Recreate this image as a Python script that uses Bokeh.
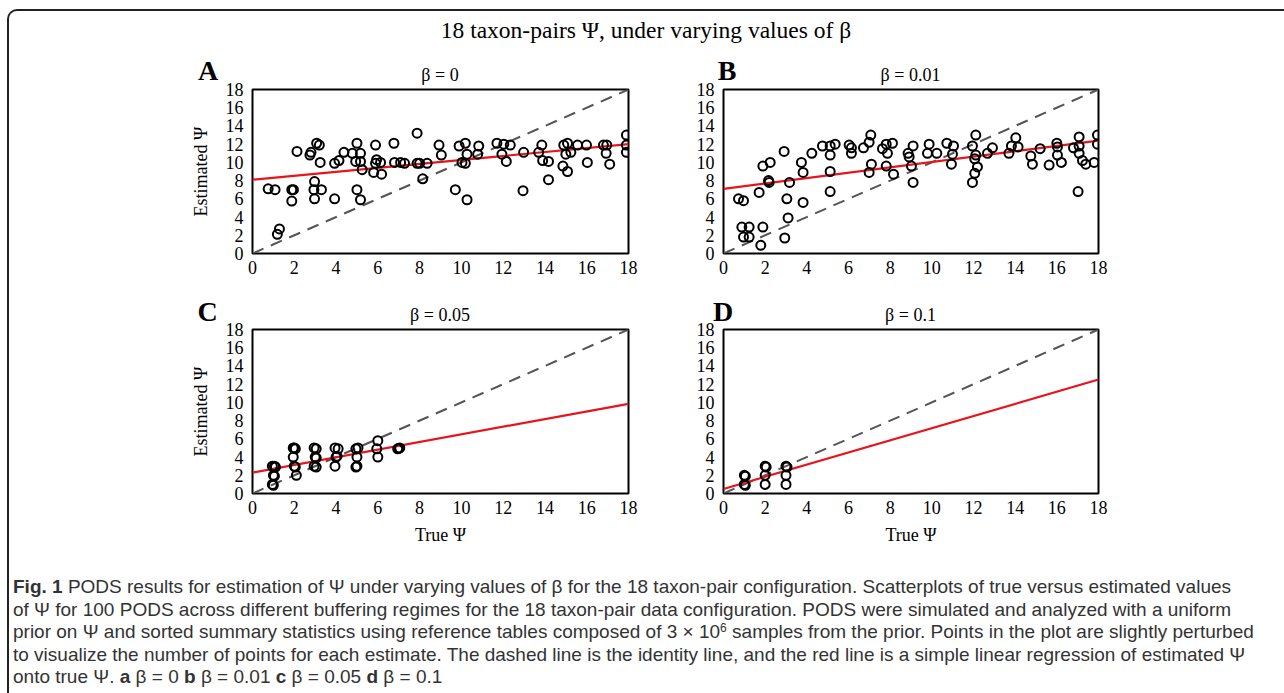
from bokeh.plotting import figure
from bokeh.models import Range1d, FixedTicker, Div
from bokeh.layouts import column, row
from bokeh.embed import file_html
from bokeh.resources import INLINE

# ---------------- data ----------------
ticks = [0, 2, 4, 6, 8, 10, 12, 14, 16, 18]
panel_letters = ["A", "B", "C", "D"]
panel_titles = ["β = 0", "β = 0.01", "β = 0.05", "β = 0.1"]
main_title = "18 taxon-pairs Ψ, under varying values of β"

A_true = [0.75, 1.08, 1.19, 1.29, 1.88, 1.96, 1.88, 2.13, 2.75, 2.8,
          2.97, 2.94, 2.97, 3.3, 3.07, 3.2, 3.24, 3.93, 3.93, 4.14,
          4.38, 4.78, 5.0, 4.94, 5.0, 5.17, 5.17, 5.25, 5.17, 5.8,
          5.89, 5.94, 5.89, 6.13, 6.18, 6.77, 6.8, 7.09, 7.28, 7.88,
          7.88, 8.0, 8.15, 8.36, 8.93, 9.04, 9.71, 9.89, 10.19, 10.27,
          10.03, 10.19, 10.27, 10.83, 10.78, 11.7, 12.03, 12.34, 11.94, 12.15,
          12.95, 12.98, 13.7, 13.85, 13.89, 14.17, 14.17, 14.86, 14.9, 15.08,
          15.0, 15.24, 15.08, 15.56, 15.99, 16.03, 16.8, 16.96, 16.93, 17.1,
          17.9, 17.9, 17.9]
A_est = [7.1, 7.0, 2.1, 2.7, 7.0, 7.0, 5.75, 11.2, 10.8, 11.1,
         7.9, 7.0, 6.0, 7.0, 12.1, 11.9, 10.0, 6.0, 9.9, 10.2,
         11.1, 11.0, 12.1, 10.1, 7.0, 5.9, 11.0, 9.2, 10.1, 8.9,
         11.9, 10.3, 9.9, 10.0, 8.7, 12.1, 10.0, 10.0, 9.9, 13.2,
         9.9, 9.9, 8.2, 9.9, 11.9, 10.8, 7.0, 11.8, 12.1, 10.9,
         10.0, 9.9, 5.9, 11.8, 10.9, 12.1, 12.0, 11.9, 10.9, 10.1,
         6.9, 11.1, 11.1, 11.9, 10.2, 10.1, 8.1, 9.6, 11.9, 12.1,
         10.9, 11.1, 9.0, 11.9, 11.9, 10.0, 11.9, 11.9, 11.0, 9.8,
         13.0, 11.1, 11.9]

B_true = [0.72, 0.96, 0.88, 0.96, 1.23, 1.23, 1.71, 1.79, 1.89, 1.89,
          2.24, 2.16, 2.19, 2.91, 2.94, 3.04, 3.1, 3.17, 3.74, 3.82,
          3.82, 4.24, 4.75, 5.12, 5.12, 5.12, 5.12, 5.36, 6.03, 6.14,
          6.14, 6.72, 6.99, 7.07, 7.1, 6.99, 7.63, 7.81, 8.11, 7.87,
          7.81, 8.16, 8.86, 8.91, 9.02, 9.1, 9.1, 9.87, 9.79, 10.24,
          10.72, 11.04, 10.99, 10.94, 11.95, 12.11, 12.11, 11.95, 12.06, 12.19,
          12.06, 12.67, 12.91, 13.7, 13.82, 14.03, 14.14, 14.75, 14.83, 15.2,
          15.63, 16.0, 16.03, 16.03, 16.22, 16.8, 17.07, 17.07, 17.07, 17.02,
          17.23, 17.39, 17.79, 17.95, 17.95]
B_est = [6.0, 5.8, 2.9, 1.8, 2.9, 1.8, 6.7, 0.9, 2.9, 9.6,
         10.0, 8.0, 7.8, 11.2, 1.7, 6.0, 3.9, 7.8, 10.0, 8.9,
         5.6, 11.0, 11.8, 11.8, 10.8, 9.0, 6.8, 12.0, 11.9, 11.6,
         11.0, 11.6, 12.2, 13.0, 9.8, 8.9, 11.5, 12.0, 12.1, 11.0,
         9.6, 8.7, 11.0, 10.6, 9.6, 11.8, 7.8, 12.0, 11.0, 11.0,
         12.1, 11.8, 10.9, 9.8, 11.8, 13.0, 10.8, 7.8, 8.8, 9.5,
         10.4, 11.0, 11.6, 11.0, 11.8, 12.7, 11.7, 10.7, 9.8, 11.5,
         9.7, 12.1, 11.7, 10.8, 10.0, 11.6, 12.8, 11.8, 11.0, 6.8,
         10.2, 9.8, 10.0, 13.0, 12.0]

C_true = [0.95, 1.05, 1.0, 1.05, 0.95, 1.0, 1.1,
          1.95, 2.05, 1.95, 2.0, 2.05, 2.1, 2.0,
          2.95, 3.05, 3.0, 3.05, 2.95, 3.05,
          3.95, 4.1, 4.0, 3.95, 4.05,
          4.95, 5.05, 5.0, 4.95, 5.0,
          6.0, 5.95, 6.0,
          6.95, 7.05, 7.0]
C_est = [3.0, 3.0, 2.0, 1.9, 1.0, 0.9, 2.9,
         5.0, 4.9, 4.0, 3.0, 2.9, 2.0, 5.0,
         5.0, 4.9, 4.0, 3.9, 3.0, 2.9,
         5.0, 4.9, 4.0, 3.0, 4.1,
         4.9, 5.0, 4.0, 2.9, 3.0,
         5.8, 4.9, 4.0,
         4.9, 5.0, 4.95]

D_true = [1.0, 1.05, 1.0, 1.05, 2.0, 2.05, 2.0, 2.0, 3.0, 3.05, 3.0, 3.0]
D_est = [2.0, 1.9, 1.0, 0.9, 3.0, 2.9, 2.0, 1.0, 3.0, 2.9, 2.0, 1.0]

reg_intercept = [8.1, 7.1, 2.3, 0.5]
reg_slope = [0.217, 0.294, 0.419, 0.667]

caption_lines = [
    "<b>Fig. 1</b> PODS results for estimation of Ψ under varying values of β for the 18 taxon-pair configuration. Scatterplots of true versus estimated values",
    "of Ψ for 100 PODS across different buffering regimes for the 18 taxon-pair data configuration. PODS were simulated and analyzed with a uniform",
    "prior on Ψ and sorted summary statistics using reference tables composed of 3 × 10<span style='position:relative;top:-6px;font-size:12px;line-height:0'>6</span> samples from the prior. Points in the plot are slightly perturbed",
    "to visualize the number of points for each estimate. The dashed line is the identity line, and the red line is a simple linear regression of estimated Ψ",
    "onto true Ψ. <b>a</b> β = 0 <b>b</b> β = 0.01 <b>c</b> β = 0.05 <b>d</b> β = 0.1",
]

SERIF = "Liberation Serif"


def make_panel(idx, xs, ys, width, height, mb_left, mb_right, mb_top, mb_bottom,
               ylabel, xlabel):
    p = figure(width=width, height=height, output_backend="svg", toolbar_location=None,
               x_range=Range1d(0, 18), y_range=Range1d(0, 18),
               min_border_left=mb_left, min_border_right=mb_right,
               min_border_top=mb_top, min_border_bottom=mb_bottom)
    p.grid.visible = False
    p.outline_line_color = "black"
    p.outline_line_width = 2
    p.outline_line_alpha = 1
    p.background_fill_color = "white"
    p.border_fill_color = None

    for ax in (p.xaxis[0], p.yaxis[0]):
        ax.ticker = FixedTicker(ticks=ticks)
        ax.axis_line_color = None
        ax.major_tick_line_color = None
        ax.minor_tick_line_color = None
        ax.major_tick_out = 0
        ax.major_tick_in = 0
        ax.major_label_text_font = SERIF
        ax.major_label_text_font_size = "18px"
        ax.major_label_text_color = "black"
        ax.axis_label_text_font = SERIF
        ax.axis_label_text_font_size = "18px"
        ax.axis_label_text_font_style = "normal"
        ax.axis_label_text_color = "black"
    p.yaxis[0].major_label_standoff = 9
    p.xaxis[0].major_label_standoff = 7
    if ylabel:
        p.yaxis[0].axis_label = ylabel
        p.yaxis[0].axis_label_standoff = 12
    if xlabel:
        p.xaxis[0].axis_label = xlabel
        p.xaxis[0].axis_label_standoff = 8

    # identity line
    p.line([ticks[0], ticks[-1]], [ticks[0], ticks[-1]], line_color="#555555",
           line_width=2, line_dash="12 8")
    # regression line
    rx = [ticks[0], ticks[-1]]
    ry = [reg_intercept[idx] + reg_slope[idx] * v for v in rx]
    p.line(rx, ry, line_color="#e8141c", line_width=2.2)
    # points
    p.scatter(xs, ys, marker="circle", size=9, fill_color=None,
              line_color="black", line_width=2)
    return p


def span(text, left, top, size, bold=False, lh=1.0):
    w = "bold" if bold else "normal"
    return (f'<span style="position:absolute;left:{left}px;top:{top}px;transform:translateX(-50%);'
            f"font-family:'{SERIF}';font-size:{size}px;line-height:{lh};font-weight:{w};"
            f'color:#000;white-space:nowrap;">{text}</span>')


# header row 1 (main title + panel letters/titles A, B); div spans window y 11..78
head1 = ('<div style="position:relative;width:1275px;height:67px;overflow:visible;">'
         + span(main_title, 637, 8, 23.5)
         + span(panel_letters[0], 199, 49, 28, bold=True, lh=0.8)
         + span(panel_titles[0], 431, 55, 18)
         + span(panel_letters[1], 718, 49, 28, bold=True, lh=0.8)
         + span(panel_titles[1], 901.5, 55, 18)
         + '</div>')
# header row 2; div spans window y 290..318
head2 = ('<div style="position:relative;width:1275px;height:28px;overflow:visible;">'
         + span(panel_letters[2], 198.5, 11, 28, bold=True, lh=0.8)
         + span(panel_titles[2], 431, 16, 18)
         + span(panel_letters[3], 714, 11, 28, bold=True, lh=0.8)
         + span(panel_titles[3], 901.5, 16, 18)
         + '</div>')

hdr_styles = {"overflow": "visible", "z-index": "5"}
head1_div = Div(text=head1, width=1275, height=67, margin=(0, 0, 0, 0), styles=hdr_styles)
head2_div = Div(text=head2, width=1275, height=28, margin=(0, 0, 0, 0), styles=hdr_styles)

pA = make_panel(0, A_true, A_est, 651, 212, 243, 32, 11, 37, "Estimated Ψ", None)
pB = make_panel(1, B_true, B_est, 624, 212, 63, 186, 11, 37, None, None)
pC = make_panel(2, C_true, C_est, 651, 252, 243, 32, 11, 77, "Estimated Ψ", "True Ψ")
pD = make_panel(3, D_true, D_est, 624, 252, 63, 186, 11, 77, None, "True Ψ")

cap_div = Div(
    text='<div style="font-family:\'Liberation Sans\';font-size:19px;line-height:22.5px;'
         'color:#333;padding:6px 0 0 4px;white-space:nowrap;">'
         + "<br>".join(caption_lines) + "</div>",
    width=1275, height=123, margin=(0, 0, 0, 0))

layout = column(head1_div, row(pA, pB), head2_div, row(pC, pD), cap_div,
                margin=(9, 0, 0, 7),
                styles={"border-left": "2px solid #222", "border-top": "2px solid #222",
                        "border-top-left-radius": "10px", "background": "white"})

open("out.html", "w").write(file_html(layout, INLINE))
